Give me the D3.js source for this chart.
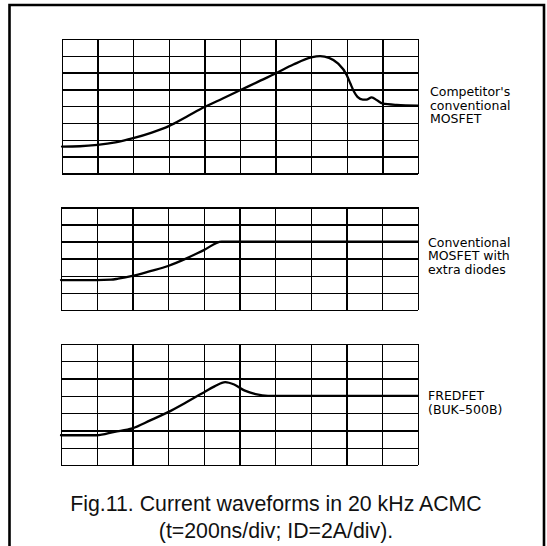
<!DOCTYPE html>
<html>
<head>
<meta charset="utf-8">
<script src="https://cdn.jsdelivr.net/npm/d3@7"></script>
<style>
  body { margin: 0; background: #fff; }
  .grid line { stroke: #000; stroke-width: 1.4; shape-rendering: crispEdges; }
  .grid .domain { display: none; }
  .trace { fill: none; stroke: #000; stroke-width: 2.3; stroke-linejoin: round; stroke-linecap: round; }
  .label { font-family: "DejaVu Sans", sans-serif; font-size: 12.5px; fill: #000; }
  .caption { font-family: "Liberation Sans", Arial, sans-serif; font-size: 21.3px; fill: #111; }
</style>
</head>
<body>
<div id="chart"></div>
<script>
// time axis in divisions (200 ns/div), current in divisions (2 A/div)
var xDivs = 10;

// Competitor's conventional MOSFET
var compX = [0, 0.5, 1, 1.5, 2, 2.5, 3, 3.5, 4, 4.5, 5, 5.5, 6, 6.5, 7, 7.25, 7.5, 7.75, 8, 8.1, 8.2, 8.3, 8.45, 8.55, 8.7, 8.85, 9, 9.4, 10];
var compY = [1.6, 1.62, 1.7, 1.85, 2.1, 2.42, 2.82, 3.38, 3.95, 4.45, 4.95, 5.45, 5.95, 6.48, 6.9, 6.98, 6.88, 6.55, 5.85, 5.35, 4.88, 4.56, 4.4, 4.4, 4.53, 4.35, 4.17, 4.08, 4.04];

// Conventional MOSFET with extra diodes
var diodeX = [0, 1, 1.4, 1.6, 2, 2.5, 3, 3.5, 4, 4.5, 10];
var diodeY = [1.75, 1.75, 1.77, 1.83, 1.99, 2.27, 2.57, 3.0, 3.5, 4.0, 4.0];

// FREDFET (BUK-500B)
var fredX = [0, 1, 1.5, 2, 2.5, 3, 3.5, 4, 4.3, 4.6, 4.85, 5.15, 5.45, 5.8, 10];
var fredY = [1.72, 1.72, 1.92, 2.12, 2.58, 3.06, 3.62, 4.2, 4.55, 4.8, 4.66, 4.3, 4.1, 4.0, 4.0];

var labels = [
  ["Competitor's", "conventional", "MOSFET"],
  ["Conventional", "MOSFET with", "extra diodes"],
  ["FREDFET", "(BUK\u2013500B)"]
];

var captionLines = ["Fig.11. Current waveforms in 20 kHz ACMC", "(t=200ns/div; ID=2A/div)."];

var panels = [
  {xs: compX, ys: compY, rows: 8, left: 62, right: 418, top: 39, bottom: 173.5, lab: labels[0], labX: 430, labY: 96},
  {xs: diodeX, ys: diodeY, rows: 6, left: 61, right: 418, top: 207.3, bottom: 310, lab: labels[1], labX: 428, labY: 246.5},
  {xs: fredX, ys: fredY, rows: 7, left: 61, right: 418, top: 344, bottom: 465, lab: labels[2], labX: 428, labY: 400}
];

var svg = d3.select("#chart").append("svg")
    .attr("width", 547)
    .attr("height", 546);

// outer frame, open at the bottom
svg.append("path")
    .attr("d", "M9.5,546 V5 H544 V546")
    .attr("fill", "none")
    .attr("stroke", "#000")
    .attr("stroke-width", 2.6);

panels.forEach(function(p) {
  var x = d3.scaleLinear().domain([0, xDivs]).range([p.left, p.right]);
  var y = d3.scaleLinear().domain([0, p.rows]).range([p.bottom, p.top]);
  var h = p.bottom - p.top, w = p.right - p.left;

  svg.append("g")
      .attr("class", "grid")
      .attr("transform", "translate(0," + p.bottom + ")")
      .call(d3.axisBottom(x).tickValues(d3.range(0, xDivs + 1)).tickSize(-h).tickFormat(""));

  svg.append("g")
      .attr("class", "grid")
      .attr("transform", "translate(" + p.left + ",0)")
      .call(d3.axisLeft(y).tickValues(d3.range(0, p.rows + 1)).tickSize(-w).tickFormat(""));

  var line = d3.line()
      .x(function(d, i) { return x(p.xs[i]); })
      .y(function(d) { return y(d); })
      .curve(d3.curveMonotoneX);

  svg.append("path")
      .datum(p.ys)
      .attr("class", "trace")
      .attr("d", line);

  svg.append("text")
      .attr("class", "label")
      .attr("x", p.labX)
      .attr("y", p.labY)
    .selectAll("tspan")
    .data(p.lab)
    .enter().append("tspan")
      .attr("x", p.labX)
      .attr("dy", function(d, i) { return i === 0 ? 0 : 13.5; })
      .text(function(d) { return d; });
});

svg.append("text")
    .attr("class", "caption")
    .attr("text-anchor", "middle")
    .selectAll("tspan")
    .data(captionLines)
    .enter().append("tspan")
      .attr("x", 276)
      .attr("y", function(d, i) { return 511 + i * 27; })
      .text(function(d) { return d; });
</script>
</body>
</html>
